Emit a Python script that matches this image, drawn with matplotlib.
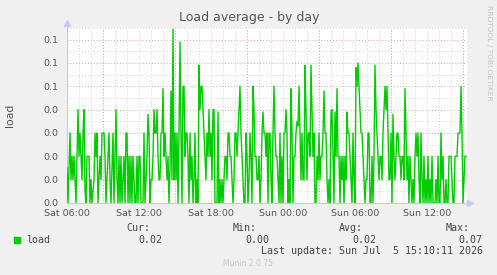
import matplotlib
matplotlib.use("Agg")
import matplotlib.pyplot as plt
import numpy as np

# ---- data (load, in hundredths, 5-minute samples starting Sat 06:00) ----
seg1 = [1.5,0,1.5,3,1,2,1,2,1,0, 2,4,2,3,2,1,3,4,0.5,0, 2,2,2,0,1,0,0.5,1,3,2,
        3,0,1,2,1,3,3,3,2,0, 1,2,3,1,0,1.5,3,0,2,4]
seg2 = [1,0,2,0,2,0,1,2,0,3, 3,0,2,0,2,0,2,1,0,0, 2,0,2,2,0,0,0,3,0,1,
        2,3.8,3,0,1,1,2,4,3,3, 4,2,1,1,3,3,4.9,2,3,2]
seg3 = [1,2,0,1.5,4.8,1,7.45,1,3,1, 3,0,3,6.9,3,0,5,5,2,3, 3,2,0,3,1,2,0,1,3,0,
        1,0,5.9,4,5,5,4,3,2,1, 3,2,4,2,3,1,4,4,0,0]
seg4 = [0,3.9,0,1,0,1,0,1,2,2, 1,3,3,2,2,1,0,1,3,3, 2,3,4,5,3,2,1,0,0,3,
        2,0,1,3,2,0,5,4,2,2, 1,1,2,0,1,3,3.9,3,3,2]
seg5 = [3,0,3,3,1,0,3,5,3,2, 2,1,0,3,0,2,0,3,3,4, 3,0,1,0,4.9,3,0,2,2,3,
        3.5,3.3,5,3,1,3,1,1,5.9,4, 1,3,3,2,5.9,4,2,3,0,0]
seg6 = [2,1,3,1,2,2,3,4.8,3,3, 1,0,1,0,3.9,4,2,0,3.9,2, 4.9,2,2,0,2,1,2,0,2,1,
        3.9,3,3,2,1,0,3,1,0,5.8, 5,6,5,4,3,3,2,1,0,1]
seg7 = [1,3,3,0,0,2,0,2,5.9,4, 3,2,1,2,2,1,3,4,5,4, 5,3,1,1,3,0,3.8,2,1,2,
        3,3,2,2,1,2,2,1,4.9,3, 1,2,0,2,1,0,1,0,2,3]
seg8 = [2,3,1,0,3,1,0,2,0,1, 0,2,0,1,0,2,0,0,0,1, 0,2,0,0,3,1,2,0,0,1,
        0,0,2,2,2,1,0,0,2,2, 2,3,3,3,5,3,0,1,2,2]

x_labels = ["Sat 06:00", "Sat 12:00", "Sat 18:00", "Sun 00:00", "Sun 06:00", "Sun 12:00"]
x_label_hours = [0, 6, 12, 18, 24, 30]
y_ticks = [0.00, 0.01, 0.02, 0.03, 0.04, 0.05, 0.06, 0.07]
legend_stats = {"Cur:": "0.02", "Min:": "0.00", "Avg:": "0.02", "Max:": "0.07"}
last_update = "Last update: Sun Jul  5 15:10:11 2026"

values = np.array(seg1 + seg2 + seg3 + seg4 + seg5 + seg6 + seg7 + seg8) / 100.0
hours = np.arange(len(values)) * 5 / 60.0

W, H = 497, 275
fig = plt.figure(figsize=(W / 100, H / 100), dpi=100, facecolor="#f0f0f0")

def fx(x):
    return x / W

def fy(y):
    return 1 - y / H

L, R, T, B = 67, 467, 28, 203
ax = fig.add_axes([fx(L), fy(B), (R - L) / W, (B - T) / H])
ax.set_facecolor("white")
ax.set_xlim(0, 400 * 5 / 60.0)
ax.set_ylim(0, 0.075)

# grid
for h in np.arange(0, 34, 1):
    ax.axvline(h, color="#d4d4d4", lw=0.7, ls=(0, (1, 2)), zorder=1)
for v in np.arange(0.005, 0.076, 0.01):
    ax.axhline(v, color="#d4d4d4", lw=0.7, ls=(0, (1, 2)), zorder=1, clip_on=False)
for h in np.arange(3, 34, 6):
    ax.axvline(h, color="#eaa0a0", lw=0.7, ls=(0, (1, 2)), zorder=1.5)
for v in y_ticks[1:]:
    ax.axhline(v, color="#eaa0a0", lw=0.7, ls=(0, (1, 2)), zorder=1.5)

ax.plot(hours, values, color="#00cc00", lw=1.0, zorder=3)

ax.set_xticks(x_label_hours)
ax.set_xticklabels(x_labels)
ax.set_yticks(y_ticks)
ax.set_yticklabels(["%.1f" % v for v in y_ticks])
ax.tick_params(axis="both", length=0, labelsize=6.8, colors="#555555")
ax.tick_params(axis="y", pad=6)
ax.tick_params(axis="x", pad=4)

for s in ["top", "right"]:
    ax.spines[s].set_visible(False)
for s in ["left", "bottom"]:
    ax.spines[s].set_color("#c8c8f4")
    ax.spines[s].set_linewidth(0.8)

# axis arrows
ax.plot([0, 0], [1.0, 1.03], transform=ax.transAxes, color="#c8c8f4", lw=0.8, clip_on=False)
ax.plot([0], [1.03], marker="^", ms=4, color="#c8c8f4", transform=ax.transAxes, clip_on=False)
ax.plot([1.0, 1.008], [0, 0], transform=ax.transAxes, color="#c8c8f4", lw=0.8, clip_on=False)
ax.plot([1.008], [0], marker=">", ms=4, color="#c8c8f4", transform=ax.transAxes, clip_on=False)

# title and side texts
fig.text(fx(249), fy(18), "Load average - by day", ha="center", va="center",
         fontsize=9, color="#555555")
fig.text(fx(10), fy(115), "load", rotation=90, ha="center", va="center",
         fontsize=7.8, color="#555555")
fig.text(fx(489), fy(5), "RRDTOOL / TOBI OETIKER", rotation=270, ha="center", va="top",
         fontsize=5.4, color="#c4c4c4")

# legend
mono = dict(family="DejaVu Sans Mono", fontsize=7.2, color="#444444")
fig.patches.append(plt.Rectangle((fx(14), fy(243)), 6 / W, 6 / H, transform=fig.transFigure,
                                 color="#00cc00", figure=fig))
fig.text(fx(26), fy(240), "load", ha="left", va="center", **mono)
head_x = [150, 257, 363, 470]
val_x = [162, 269, 376, 482]
for (k, v), hx, vx in zip(legend_stats.items(), head_x, val_x):
    fig.text(fx(hx), fy(228), k, ha="right", va="center", **mono)
    fig.text(fx(vx), fy(240), v, ha="right", va="center", **mono)
fig.text(fx(483), fy(251), last_update, ha="right", va="center", **mono)
fig.text(fx(248), fy(264), "Munin 2.0.75", ha="center", va="center",
         fontsize=5.5, color="#c8c8c8")

fig.savefig("out.png", dpi=100, facecolor=fig.get_facecolor())
